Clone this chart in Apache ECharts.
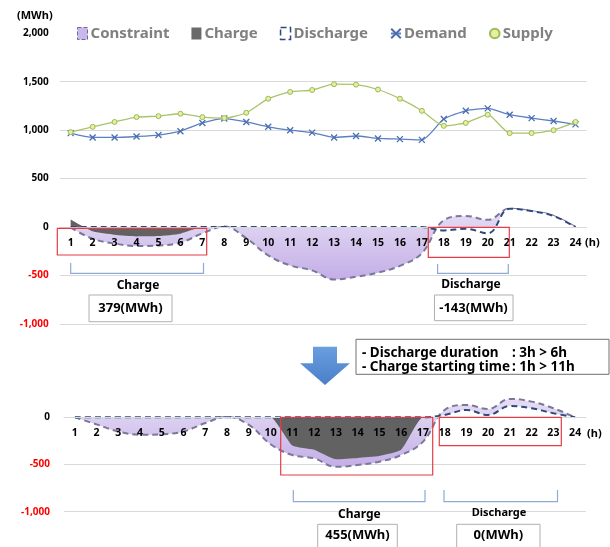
<!DOCTYPE html>
<html><head><meta charset="utf-8">
<script src="https://cdn.jsdelivr.net/npm/echarts/dist/echarts.min.js"></script>
<style>html,body{margin:0;padding:0;background:#fff}#c{width:610px;height:547px}</style>
</head><body><div id="c"></div>
<script>
const hours = ['1','2','3','4','5','6','7','8','9','10','11','12','13','14','15','16','17','18','19','20','21','22','23','24'];
const demand = [970, 925, 925, 935, 950, 990, 1075, 1120, 1085, 1035, 1000, 975, 925, 940, 915, 908, 900, 1115, 1200, 1225, 1160, 1125, 1095, 1060];
const supply = [980, 1035, 1085, 1135, 1145, 1170, 1135, 1125, 1180, 1325, 1395, 1415, 1475, 1470, 1420, 1325, 1200, 1045, 1075, 1160, 970, 970, 1000, 1085];
const constraintBefore = [-5, -120, -170, -195, -190, -160, -65, 5, -115, -292, -395, -447, -540, -512, -470, -400, -270, 70, 115, 75, 190, 165, 115, 0];
const chargeBefore = [79, -44, -79, -96, -93, -68, 0, 0, 0, 0, 0, 0, 0, 0, 0, 0, 0, 0, 0, 0, 0, 0, 0, 0];
const dischargeBefore = [0, 0, 0, 0, 0, 0, 0, 0, 0, 0, 0, 0, 0, 0, 0, 0, 0, -34, -17, -65, 190, 165, 115, 0];
const constraintAfter = [0, -75, -150, -185, -180, -150, -60, 5, -80, -285, -400, -435, -525, -505, -470, -400, -260, 78, 130, 88, 195, 166, 96, 0];
const chargeAfter = [0, 0, 0, 0, 0, 0, 0, 0, 0, 0, -300, -345, -445, -430, -410, -345, 0, 0, 0, 0, 0, 0, 0, 0];
const dischargeAfter = [0, 0, 0, 0, 0, 0, 0, 0, 0, 0, 0, 0, 0, 0, 0, 0, 0, 25, 78, 25, 120, 96, 43, 0];
const topTicks = {min: -1000, max: 2000, step: 500};
const bottomTicks = {min: -1000, max: 500, step: 500};

const FONT = 'Noto Sans';
const W = 610, H = 547;
const grids = [
  {left: 59.7, right: 23.5, top: 33.3, bottom: 223},
  {left: 64, right: 24, top: 370.1, bottom: 35.3}
];
const chart = echarts.init(document.getElementById('c'), null, {renderer: 'canvas'});

function zeroOffset(i, t) {
  const h = H - grids[i].top - grids[i].bottom;
  return -h * (0 - t.min) / (t.max - t.min);
}
function xAxisFor(i, t) {
  return {
    type: 'category', data: hours, gridIndex: i, boundaryGap: true, position: 'bottom',
    offset: zeroOffset(i, t), z: 10,
    axisLine: {onZero: false, lineStyle: {color: '#d9d9d9', width: 1}},
    axisTick: {show: false},
    axisLabel: {interval: 0, color: '#000', fontWeight: 'bold', fontSize: 10.5, fontFamily: FONT, margin: 10},
    splitLine: {show: false}
  };
}
function yAxisFor(i, t, margin) {
  const n = Math.round((t.max - t.min) / t.step) + 1;
  const cols = [];
  for (let k = 0; k < n; k++) cols.push(k === n - 1 ? 'rgba(0,0,0,0)' : '#d9d9d9');
  return {
    type: 'value', gridIndex: i, min: t.min, max: t.max, interval: t.step,
    axisLine: {show: false}, axisTick: {show: false},
    axisLabel: {
      fontFamily: FONT, fontWeight: 'bold', fontSize: 10, margin: margin,
      formatter: v => (i === 1 && v > 0) ? '' : Number(v).toLocaleString('en-US'),
      color: v => Number(v) < 0 ? '#ff0000' : '#000'
    },
    splitLine: {lineStyle: {color: cols, width: 1}}
  };
}
const purpleGrad = () => new echarts.graphic.LinearGradient(0, 0, 0, 1, [
  {offset: 0, color: '#e6def4'}, {offset: 1, color: '#c3aee7'}]);
function areaSeries(gi, cons, chg, dis) {
  return [
    {name: 'Constraint', type: 'line', xAxisIndex: gi, yAxisIndex: gi, data: cons, smooth: 0.4,
     symbol: 'none', z: 1, color: '#c6b4e8',
     lineStyle: {color: '#7c7798', width: 2, type: [6, 4]},
     areaStyle: {color: purpleGrad(), opacity: 1}},
    {name: 'Charge', type: 'line', xAxisIndex: gi, yAxisIndex: gi, data: chg, smooth: 0.15,
     symbol: 'none', z: 2, color: '#606060',
     lineStyle: {width: 0, color: '#606060'},
     areaStyle: {color: '#626262', opacity: 1}},
    {name: 'Discharge', type: 'line', xAxisIndex: gi, yAxisIndex: gi, data: dis, smooth: 0.4,
     symbol: 'none', z: 3, color: '#2e4a7d',
     lineStyle: {color: '#2e4a7d', width: 2, type: [6, 4]},
     areaStyle: {color: '#ffffff', opacity: 1}}
  ];
}

const red = '#e63c46';
const brk = '#8eaad6';
function rect(x1, y1, x2, y2, stroke, fill, w) {
  return {type: 'rect', shape: {x: x1, y: y1, width: x2 - x1, height: y2 - y1},
    style: {fill: fill || 'none', stroke: stroke, lineWidth: w || 1.2}, z: 100};
}
function bracket(x1, x2, yTop, yBot) {
  return {type: 'polyline', shape: {points: [[x1, yTop], [x1, yBot], [x2, yBot], [x2, yTop]]},
    style: {stroke: brk, lineWidth: 1.2, fill: 'none'}, z: 100};
}
function txt(x, y, s, size, align, color) {
  return {type: 'text', x: x, y: y, z: 101,
    style: {text: s, fontFamily: FONT, fontWeight: 'bold', fontSize: size, fill: color || '#000',
      align: align || 'center', verticalAlign: 'middle'}};
}

const graphics = [
  txt(17, 16, '(MWh)', 11, 'left'),
  txt(585, 242.5, '(h)', 11, 'left'),
  txt(587, 434, '(h)', 11, 'left'),
  // top annotations
  rect(57.3, 228.3, 206.7, 255, red),
  rect(428.3, 227.3, 509.3, 257.3, red),
  bracket(70.7, 203.5, 263, 273.3),
  bracket(437.6, 508.3, 264, 273.3),
  txt(138, 285.7, 'Charge', 12),
  txt(471, 284.5, 'Discharge', 12),
  rect(89, 295, 172, 321.7, '#b0b0b0', '#fff', 1),
  txt(130.5, 308.5, '379(MWh)', 13),
  rect(434.5, 295, 513, 320.7, '#b0b0b0', '#fff', 1),
  txt(473.5, 308, '-143(MWh)', 13),
  // arrow
  {type: 'polygon', z: 100, shape: {points: [[313, 346.7], [337, 346.7], [337, 363.3], [350, 363.3], [325, 385], [300, 363.3], [313, 363.3]]},
   style: {fill: new echarts.graphic.LinearGradient(0, 0, 0, 1, [{offset: 0, color: '#6a9ee0'}, {offset: 1, color: '#4a7fc8'}])}},
  // text box
  rect(356, 339.3, 609, 374.3, '#707070', '#fff', 1),
  txt(362, 353.5, '- Discharge duration', 13.5, 'left'),
  txt(512, 353.5, ': 3h > 6h', 13.5, 'left'),
  txt(362, 367.5, '- Charge starting time', 13.5, 'left'),
  txt(512, 367.5, ': 1h > 11h', 13.5, 'left'),
  // bottom annotations
  rect(280.7, 417.3, 432.7, 475, red),
  rect(439.3, 417.3, 561.3, 445.7, red),
  bracket(293.3, 425, 490, 501.7),
  bracket(444, 557.5, 490, 501.7),
  txt(359.3, 514.3, 'Charge', 12),
  txt(499, 513, 'Discharge', 11),
  rect(317.7, 524.3, 397.3, 548, '#b0b0b0', '#fff', 1),
  txt(357.5, 535.7, '455(MWh)', 13),
  rect(456.7, 524.3, 540, 548, '#b0b0b0', '#fff', 1),
  txt(498.3, 535.7, '0(MWh)', 13)
];

const option = {
  animation: false,
  backgroundColor: '#fff',
  textStyle: {fontFamily: FONT},
  legend: {
    left: 72, top: 21, itemWidth: 10, itemHeight: 12, itemGap: 22,
    textStyle: {fontFamily: FONT, fontWeight: 'bold', fontSize: 15, color: '#808080', padding: [0, 0, 0, -2]},
    data: [
      {name: 'Constraint', icon: 'rect', itemStyle: {color: '#c9b8ec', borderColor: '#6f6a90', borderWidth: 1, borderType: 'dashed'}},
      {name: 'Charge', icon: 'rect', itemStyle: {color: '#6a6a6a'}},
      {name: 'Discharge', icon: 'rect', itemStyle: {color: '#ffffff', borderColor: '#2e4a7d', borderWidth: 1.5, borderType: 'dashed'}},
      {name: 'Demand'},
      {name: 'Supply'}
    ]
  },
  grid: grids,
  xAxis: [xAxisFor(0, topTicks), xAxisFor(1, bottomTicks)],
  yAxis: [yAxisFor(0, topTicks, 11), yAxisFor(1, bottomTicks, 14)],
  series: [
    ...areaSeries(0, constraintBefore, chargeBefore, dischargeBefore),
    {name: 'Demand', type: 'line', xAxisIndex: 0, yAxisIndex: 0, data: demand, smooth: 0.2,
     symbol: 'path://M0,0L10,10M10,0L0,10', symbolSize: 6, z: 4, color: '#4a6db0',
     lineStyle: {color: '#5b80c2', width: 1.3},
     itemStyle: {color: '#4a6db0', borderColor: '#4a6db0', borderWidth: 1.3}},
    {name: 'Supply', type: 'line', xAxisIndex: 0, yAxisIndex: 0, data: supply, smooth: 0.2,
     symbol: 'circle', symbolSize: 5, z: 5, color: '#9bbb59',
     lineStyle: {color: '#a9c46a', width: 1.3},
     itemStyle: {color: '#e6eea0', borderColor: '#9bbb59', borderWidth: 1}},
    ...areaSeries(1, constraintAfter, chargeAfter, dischargeAfter)
  ],
  graphic: graphics
};
chart.setOption(option);
</script>
</body></html>
